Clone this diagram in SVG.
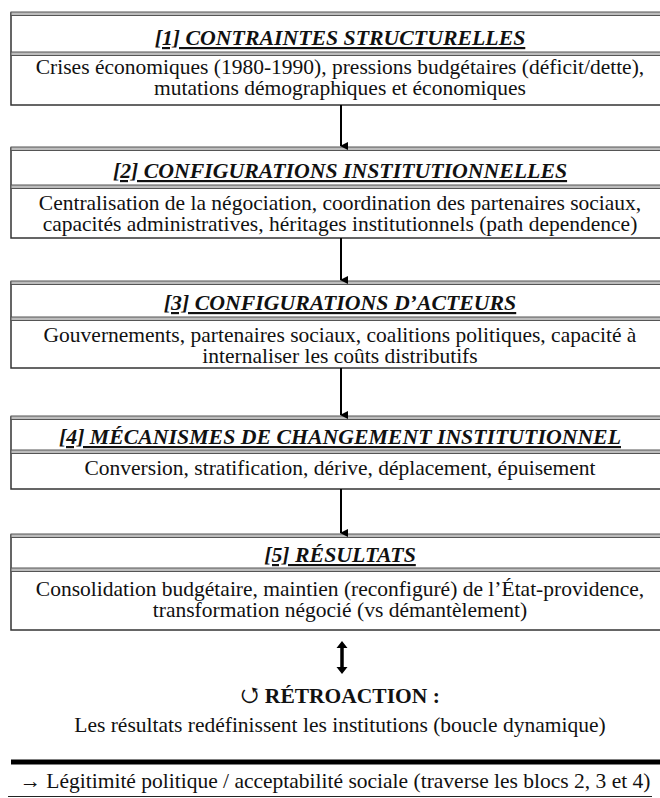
<svg xmlns="http://www.w3.org/2000/svg" width="660" height="798" viewBox="0 0 660 798">
<style>
.box{fill:#fff;stroke:#333;stroke-width:1.5}
.dbl{fill:#bdbdbd;stroke:#555;stroke-width:1}
.hd{font-size:21.8px;font-weight:bold;font-style:italic;text-decoration:underline;text-anchor:middle;fill:#111}
.bd{font-size:21.5px;text-anchor:middle;fill:#111}
.rt{font-size:21.5px;font-weight:bold;text-anchor:middle;fill:#111}
.conn{stroke:#000;stroke-width:2;fill:none}
text{font-family:'Liberation Serif','Tinos','Times New Roman','Times','Nimbus Roman','FreeSerif','Noto Serif','DejaVu Serif',serif}
</style>
<defs>
<marker id="ah" markerWidth="8" markerHeight="8" refX="4" refY="7" orient="auto" markerUnits="userSpaceOnUse" viewBox="0 0 8 8">
<path d="M0,0 L8,0 L4,8 Z" fill="#000"/>
</marker>
</defs>

<g id="node1">
<rect class="box" x="11" y="13" width="660" height="92"/>
<rect class="dbl" x="11" y="12" width="660" height="3.5"/>
<rect class="dbl" x="11" y="52" width="660" height="3.5"/>
<text class="hd" x="340" y="45">[1] CONTRAINTES STRUCTURELLES</text>
<text class="bd" x="340" y="74">Crises économiques (1980-1990), pressions budgétaires (déficit/dette),</text>
<text class="bd" x="340" y="95">mutations démographiques et économiques</text>
</g>

<g id="node2">
<rect class="box" x="11" y="148" width="660" height="90"/>
<rect class="dbl" x="11" y="147" width="660" height="3.5"/>
<rect class="dbl" x="11" y="185" width="660" height="3.5"/>
<text class="hd" x="340" y="178">[2] CONFIGURATIONS INSTITUTIONNELLES</text>
<text class="bd" x="340" y="210">Centralisation de la négociation, coordination des partenaires sociaux,</text>
<text class="bd" x="340" y="231">capacités administratives, héritages institutionnels (path dependence)</text>
</g>

<g id="node3">
<rect class="box" x="11" y="282" width="660" height="86"/>
<rect class="dbl" x="11" y="281" width="660" height="3.5"/>
<rect class="dbl" x="11" y="317" width="660" height="3.5"/>
<text class="hd" x="340" y="310">[3] CONFIGURATIONS D’ACTEURS</text>
<text class="bd" x="340" y="342">Gouvernements, partenaires sociaux, coalitions politiques, capacité à</text>
<text class="bd" x="340" y="363">internaliser les coûts distributifs</text>
</g>

<g id="node4">
<rect class="box" x="11" y="417" width="660" height="72"/>
<rect class="dbl" x="11" y="416" width="660" height="3.5"/>
<rect class="dbl" x="11" y="450" width="660" height="3.5"/>
<text class="hd" x="340" y="444">[4] MÉCANISMES DE CHANGEMENT INSTITUTIONNEL</text>
<text class="bd" x="340" y="475">Conversion, stratification, dérive, déplacement, épuisement</text>
</g>

<g id="node5">
<rect class="box" x="11" y="535" width="660" height="95"/>
<rect class="dbl" x="11" y="534" width="660" height="3.5"/>
<rect class="dbl" x="11" y="568" width="660" height="3.5"/>
<text class="hd" x="340" y="562">[5] RÉSULTATS</text>
<text class="bd" x="340" y="596">Consolidation budgétaire, maintien (reconfiguré) de l’État-providence,</text>
<text class="bd" x="340" y="617">transformation négocié (vs démantèlement)</text>
</g>

<g id="connectors">
<line class="conn" x1="341" y1="105" x2="341" y2="146" marker-end="url(#ah)"/>
<line class="conn" x1="341" y1="238" x2="341" y2="280" marker-end="url(#ah)"/>
<line class="conn" x1="341" y1="368" x2="341" y2="415" marker-end="url(#ah)"/>
<line class="conn" x1="341" y1="489" x2="341" y2="533" marker-end="url(#ah)"/>
<line x1="342" y1="646" x2="342" y2="669" stroke="#000" stroke-width="3.5"/>
<path d="M336.5,648 L342,641 L347.5,648 Z M336.5,667 L342,674 L347.5,667 Z" fill="#000"/>
</g>

<g id="feedback">
<text class="rt" x="340" y="703">↺ RÉTROACTION :</text>
<text class="bd" x="340" y="732">Les résultats redéfinissent les institutions (boucle dynamique)</text>
</g>

<g id="footer">
<rect x="11" y="759.5" width="649" height="5" fill="#000"/>
<text class="bd" x="335" y="788">→ Légitimité politique / acceptabilité sociale (traverse les blocs 2, 3 et 4)</text>
<line x1="8" y1="796.5" x2="652" y2="796.5" stroke="#222" stroke-width="1.2"/>
</g>
</svg>
